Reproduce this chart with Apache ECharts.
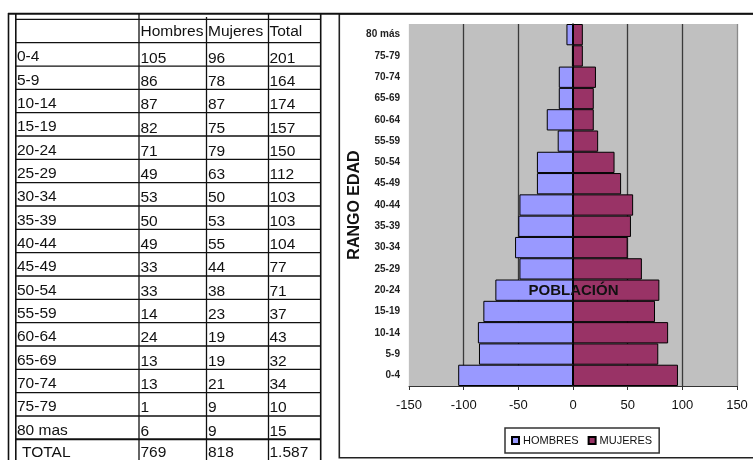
<!DOCTYPE html>
<html>
<head>
<meta charset="utf-8">
<script src="https://cdn.jsdelivr.net/npm/echarts@6/dist/echarts.min.js"></script>
<style>
html,body{margin:0;padding:0;background:#fff;}
#chart{width:753px;height:460px;}
</style>
</head>
<body>
<div id="chart"></div>
<script>
// ---- data ----
const tableHeaders = ['', 'Hombres', 'Mujeres', 'Total'];
const tableAges = ['0-4','5-9','10-14','15-19','20-24','25-29','30-34','35-39','40-44','45-49','50-54','55-59','60-64','65-69','70-74','75-79','80 mas'];
const hombres = [105,86,87,82,71,49,53,50,49,33,33,14,24,13,13,1,6];
const mujeres = [96,78,87,75,79,63,50,53,55,44,38,23,19,19,21,9,9];
const totales = [201,164,174,157,150,112,103,103,104,77,71,37,43,32,34,10,15];
const totalRow = ['TOTAL', '769', '818', '1.587'];
const chartCategories = ['0-4','5-9','10-14','15-19','20-24','25-29','30-34','35-39','40-44','45-49','50-54','55-59','60-64','65-69','70-74','75-79','80 más'];
const seriesNames = ['HOMBRES', 'MUJERES'];
const axisTitleY = 'RANGO EDAD';
const axisTitleX = 'POBLACIÓN';

// ---- table drawn as graphic elements ----
const FONT = '"Liberation Sans", Arial, sans-serif';
const colX = [17, 140.5, 208, 269.5];
const rowTop0 = 42.7, rowH = 23.33;
const g = [];
function hline(y, x1, x2, w) {
  g.push({type:'line', shape:{x1:x1, y1:y, x2:x2, y2:y}, style:{stroke:'#111', lineWidth:w||1.3}, silent:true});
}
function vline(x, y1, y2, w) {
  g.push({type:'line', shape:{x1:x, y1:y1, x2:x, y2:y2}, style:{stroke:'#111', lineWidth:w||1.3}, silent:true});
}
function txt(x, y, s) {
  g.push({type:'text', x:x, y:y, style:{text:s, fill:'#111', font:'15.5px ' + FONT, textAlign:'left', textVerticalAlign:'middle'}, silent:true});
}
// table lines
hline(13.7, 8, 753, 2);
hline(19.3, 16, 321, 1.3);
for (let i = 0; i <= tableAges.length; i++) {
  hline(rowTop0 + i * rowH, 16, 321, i === tableAges.length ? 2 : 1.3);
}
vline(8.5, 13, 460, 1.6);
vline(15.8, 13, 460, 1.6);
vline(139, 13, 460, 1.3);
vline(206.5, 17, 460, 1.3);
vline(268.5, 13, 460, 1.3);
vline(320.7, 13, 460, 1.6);
// header
for (let c = 1; c < 4; c++) txt(colX[c], 31.9, tableHeaders[c]);
// rows
for (let i = 0; i < tableAges.length; i++) {
  const bottom = rowTop0 + (i + 1) * rowH;
  txt(colX[0], bottom - 9, tableAges[i]);
  txt(colX[1], bottom - 7.8, String(hombres[i]));
  txt(colX[2], bottom - 7.8, String(mujeres[i]));
  txt(colX[3], bottom - 7.8, String(totales[i]));
}
// total row
txt(22, 452.5, totalRow[0]);
for (let c = 1; c < 4; c++) txt(colX[c], 452.5, totalRow[c]);
// chart box
g.push({type:'rect', shape:{x:339.3, y:13.7, width:430, height:444}, style:{fill:'none', stroke:'#222', lineWidth:1.6}, silent:true, z:-1});
// x axis title inside plot
g.push({type:'text', x:573.5, y:291, z:100, style:{text:axisTitleX, fill:'#111', font:'bold 15px ' + FONT, textAlign:'center', textVerticalAlign:'middle'}, silent:true});

const chart = echarts.init(document.getElementById('chart'), null, {renderer:'canvas'});
chart.setOption({
  animation: false,
  backgroundColor: '#fff',
  textStyle: {fontFamily: FONT},
  grid: {left: 409, right: 16, top: 24, bottom: 74, show: true, backgroundColor: '#c0c0c0', borderWidth: 0, containLabel: false},
  legend: {
    left: 505, top: 428,
    data: seriesNames,
    icon: 'rect', itemWidth: 7, itemHeight: 7, itemGap: 9,
    padding: [7, 7, 7, 6],
    borderColor: '#333', borderWidth: 1.5, borderRadius: 0,
    textStyle: {fontSize: 11, color: '#111', fontFamily: FONT, padding: [0, 0, 0, -1]}
  },
  xAxis: {
    type: 'value', min: -150, max: 150, interval: 50,
    axisLine: {show: true, onZero: false, lineStyle: {color: '#333', width: 1}},
    axisTick: {show: true, length: 4, lineStyle: {color: '#333'}},
    axisLabel: {fontSize: 13, color: '#111', margin: 13},
    splitLine: {show: true, lineStyle: {color: ['#c0c0c0', '#3a3a3a', '#3a3a3a', '#3a3a3a', '#3a3a3a', '#3a3a3a', '#8a8a8a'], width: 1.3}}
  },
  yAxis: {
    type: 'category', data: chartCategories,
    name: axisTitleY, nameLocation: 'middle', nameGap: 46, nameRotate: 90,
    nameTextStyle: {fontSize: 16, fontWeight: 'bold', color: '#111'},
    axisLine: {show: true, onZero: true, lineStyle: {color: '#000', width: 1.5}},
    axisTick: {show: true, inside: true, alignWithLabel: true, length: 3, lineStyle: {color: '#000'}},
    axisLabel: {interval: 0, fontSize: 10, fontWeight: 'bold', color: '#222', margin: 9, align: 'right'},
    splitLine: {show: false}
  },
  series: [
    {
      name: seriesNames[0], type: 'bar', stack: 'pop', barCategoryGap: '0%',
      data: hombres.map(v => -v),
      itemStyle: {color: '#9999ff', borderColor: '#000', borderWidth: 1}
    },
    {
      name: seriesNames[1], type: 'bar', stack: 'pop', barCategoryGap: '0%',
      data: mujeres,
      itemStyle: {color: '#993366', borderColor: '#000', borderWidth: 1}
    }
  ],
  graphic: g
});
</script>
</body>
</html>
